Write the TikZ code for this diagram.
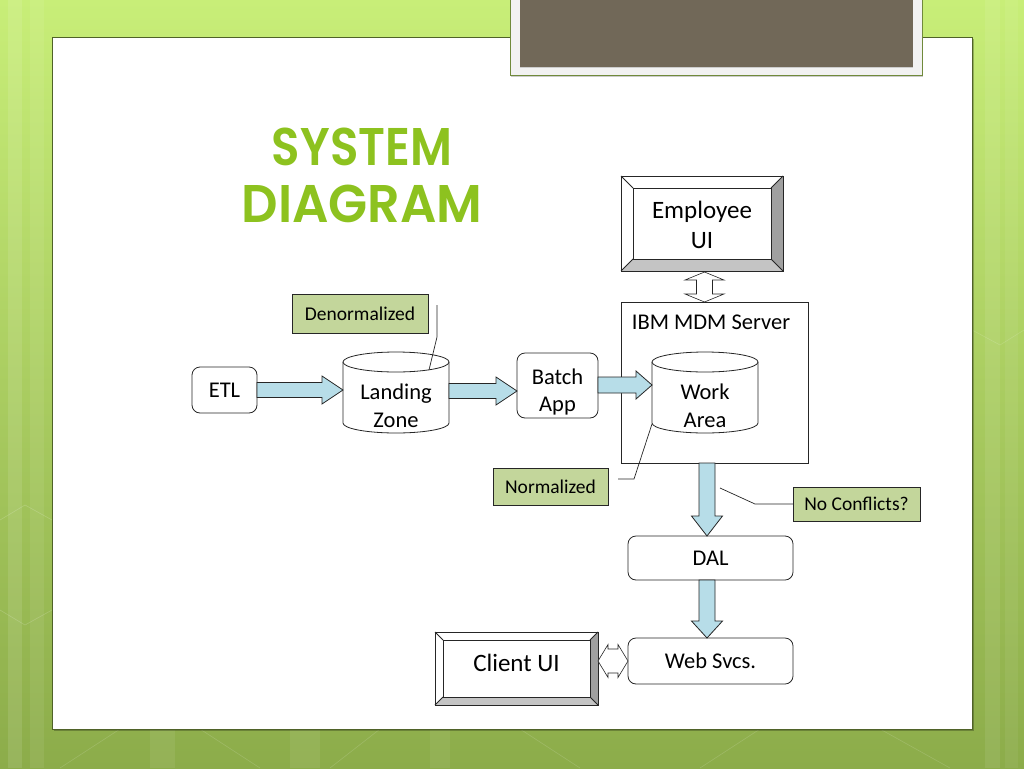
\documentclass[tikz,border=0pt]{standalone}
\usepackage{fontspec}
\setmainfont{Carlito}
\IfFontExistsTF{Poppins SemiBold}{\newfontfamily\titlefont{Poppins SemiBold}\def\titleweight{}}{\newfontfamily\titlefont{Poppins}\def\titleweight{\bfseries}}
\usetikzlibrary{calc}
\definecolor{linec}{HTML}{262626}
\definecolor{arrowblue}{HTML}{B7DDE8}
\definecolor{labelgreen}{HTML}{C3D69B}
\definecolor{titlegreen}{HTML}{8DC21F}
\definecolor{darkpanel}{HTML}{716858}
\definecolor{panelborder}{HTML}{4F6228}
\definecolor{bgtop}{HTML}{C8EE78}
\definecolor{bgmid}{HTML}{A8CC5E}
\definecolor{bgbot}{HTML}{8CAC4A}
\definecolor{bevelright}{HTML}{A0A0A0}
\definecolor{bevelbottom}{HTML}{C4C4C4}
\newcommand\bevelize[2]{%
  \fill[white] (#1.north west) -- (#1.north east) -- ($(#1.north east)+(-#2,#2)$) -- ($(#1.north west)+(#2,#2)$) -- cycle;
  \fill[white] (#1.north west) -- (#1.south west) -- ($(#1.south west)+(#2,-#2)$) -- ($(#1.north west)+(#2,#2)$) -- cycle;
  \fill[bevelright] (#1.north east) -- (#1.south east) -- ($(#1.south east)+(-#2,-#2)$) -- ($(#1.north east)+(-#2,#2)$) -- cycle;
  \fill[bevelbottom] (#1.south west) -- (#1.south east) -- ($(#1.south east)+(-#2,-#2)$) -- ($(#1.south west)+(#2,-#2)$) -- cycle;
  \draw[boxline] (#1.north west) rectangle (#1.south east);
  \draw[boxline] ($(#1.north west)+(#2,#2)$) rectangle ($(#1.south east)+(-#2,-#2)$);
  \draw[boxline] (#1.north west) -- ($(#1.north west)+(#2,#2)$);
  \draw[boxline] (#1.north east) -- ($(#1.north east)+(-#2,#2)$);
  \draw[boxline] (#1.south east) -- ($(#1.south east)+(-#2,-#2)$);
  \draw[boxline] (#1.south west) -- ($(#1.south west)+(#2,-#2)$);
}
\tikzset{
  boxline/.style={draw=linec, line width=0.8pt},
  rbox/.style={boxline, fill=white, rounded corners=8pt, inner sep=0pt, outer sep=0pt, align=center,
    font=\fontsize{22.5}{27.5}\selectfont},
  bevelnode/.style={inner sep=0pt, outer sep=0pt, align=center, font=\fontsize{25}{30}\selectfont},
  glabel/.style={boxline, fill=labelgreen, inner sep=0pt, outer sep=0pt, font=\fontsize{19.5}{23}\selectfont},
  plaintext/.style={inner sep=0pt, align=center, font=\fontsize{22.5}{27.5}\selectfont},
  callout/.style={draw=linec, line width=0.7pt},
  harrow/.style n args={3}{boxline, fill=arrowblue, line join=miter, to path={
    let \p1=(\tikztostart), \p2=(\tikztotarget) in
    (\x1,\y1+#1) -- (\x2-#3,\y1+#1) -- (\x2-#3,\y1+#2) -- (\x2,\y1) -- (\x2-#3,\y1-#2) -- (\x2-#3,\y1-#1) -- (\x1,\y1-#1) -- cycle}},
  varrow/.style n args={3}{boxline, fill=arrowblue, line join=miter, to path={
    let \p1=(\tikztostart), \p2=(\tikztotarget) in
    (\x1+#1,\y1) -- (\x1+#1,\y2+#3) -- (\x1+#2,\y2+#3) -- (\x1,\y2) -- (\x1-#2,\y2+#3) -- (\x1-#1,\y2+#3) -- (\x1-#1,\y1) -- cycle}},
  vdbl/.style n args={3}{boxline, fill=white, line width=0.6pt, line join=miter, to path={
    let \p1=(\tikztostart), \p2=(\tikztotarget) in
    (\x1,\y1) -- (\x1+#2,\y1-#3) -- (\x1+#1,\y1-#3) -- (\x1+#1,\y2+#3) -- (\x1+#2,\y2+#3) -- (\x1,\y2)
    -- (\x1-#2,\y2+#3) -- (\x1-#1,\y2+#3) -- (\x1-#1,\y1-#3) -- (\x1-#2,\y1-#3) -- cycle}},
  hdbl/.style n args={3}{boxline, fill=white, line width=0.6pt, line join=miter, to path={
    let \p1=(\tikztostart), \p2=(\tikztotarget) in
    (\x1,\y1) -- (\x1+#3,\y1+#2) -- (\x1+#3,\y1+#1) -- (\x2-#3,\y1+#1) -- (\x2-#3,\y1+#2) -- (\x2,\y1)
    -- (\x2-#3,\y1-#2) -- (\x2-#3,\y1-#1) -- (\x1+#3,\y1-#1) -- (\x1+#3,\y1-#2) -- cycle}},
}
\begin{document}
\begin{tikzpicture}[x=1pt,y=-1pt]
\useasboundingbox (0,0) rectangle (1024,768);
% background
\shade[top color=bgtop, middle color=bgmid, bottom color=bgbot] (0,0) rectangle (1024,768);
\fill[white, opacity=0.10] (8,0) rectangle (22,768);
\fill[white, opacity=0.07] (30,0) rectangle (44,768);
\fill[white, opacity=0.08] (985,0) rectangle (1000,768);
\fill[white, opacity=0.06] (1005,0) rectangle (1018,768);
\fill[white, opacity=0.07] (150,729) rectangle (175,768);
\fill[white, opacity=0.07] (290,729) rectangle (320,768);
\fill[white, opacity=0.06] (430,729) rectangle (450,768);
\draw[white, opacity=0.18, line width=0.6pt] (0,520) -- (25,505) -- (52,520);
\draw[white, opacity=0.18, line width=0.6pt] (0,610) -- (25,625) -- (52,610);
\draw[white, opacity=0.15, line width=0.6pt] (60,768) -- (120,729);
\draw[white, opacity=0.15, line width=0.6pt] (200,729) -- (260,768);
\draw[white, opacity=0.15, line width=0.6pt] (330,768) -- (380,729);
\draw[white, opacity=0.15, line width=0.6pt] (520,729) -- (580,768);
\draw[white, opacity=0.15, line width=0.6pt] (700,768) -- (760,729);
\draw[white, opacity=0.15, line width=0.6pt] (880,729) -- (950,768);
\draw[white, opacity=0.15, line width=0.6pt] (972,330) -- (1000,345) -- (1024,330);
% white panel
\fill[black, opacity=0.25] (54,39) rectangle (974,731);
\filldraw[fill=white, draw=panelborder, line width=0.8pt] (52,37) rectangle (972,729);
% top dark panel
\fill[black, opacity=0.2] (511,0) rectangle (923,77);
\filldraw[fill=white!95!black, draw=bgbot!80!black, line width=1pt] (510,-5) rectangle (922,75);
\fill[darkpanel] (520,-5) rectangle (913,67);
\draw[white!80!black, line width=0.6pt] (520,67) -- (913,67);
% title
\node[inner sep=0pt, align=center, text=titlegreen, font=\titlefont\titleweight\fontsize{53}{57}\selectfont] (title) at (362,175)
  {\scalebox{0.88}[1]{SYSTEM}\\\scalebox{0.96}[1]{DIAGRAM}};
% Employee UI
\node[bevelnode, minimum width=162pt, minimum height=95pt] (emp) at (702,223.5) {};
\bevelize{emp}{12}
\node[plaintext, font=\fontsize{25}{30}\selectfont] (emptext) at (702,225) {Employee\\UI};
% IBM MDM server box
\node[boxline, fill=white, inner sep=0pt, outer sep=0pt, minimum width=187pt, minimum height=161pt] (ibm) at (714.5,382.5) {};
\node[plaintext] (ibmlbl) at (711,322) {IBM MDM Server};
% Employee <-> IBM double arrow
\path[vdbl={8pt}{19.5pt}{8pt}] ($(emp.south)+(2.5,1)$) to ($(emp.south |- ibm.north)+(2.5,0)$);
% cylinders
\fill[white] (343,362) -- (343,423) arc[start angle=180, end angle=0, x radius=53, y radius=10] -- (449,362) -- cycle;
\draw[boxline] (343,362) -- (343,423) arc[start angle=180, end angle=0, x radius=53, y radius=10] -- (449,362);
\draw[boxline, fill=white] (396,362) ellipse[x radius=53, y radius=10];
\node[plaintext] (lz) at (396,406) {Landing\\Zone};
\coordinate (lzw) at (343,391);
\coordinate (lze) at (449,391);
\fill[white] (652,362) -- (652,423) arc[start angle=180, end angle=0, x radius=53, y radius=10] -- (758,362) -- cycle;
\draw[boxline] (652,362) -- (652,423) arc[start angle=180, end angle=0, x radius=53, y radius=10] -- (758,362);
\draw[boxline, fill=white] (705,362) ellipse[x radius=53, y radius=10];
\node[plaintext] (wa) at (705,406) {Work\\Area};
\coordinate (waw) at (652,385);
% rounded boxes
\node[rbox, minimum width=65pt, minimum height=46pt] (etl) at (224.5,390) {ETL};
\node[rbox, minimum width=81pt, minimum height=65pt] (batch) at (557.5,385.5) {};
\node[plaintext] (batchtext) at (557.5,392) {Batch\\App};
\node[rbox, minimum width=165pt, minimum height=44pt] (dal) at (710.5,558) {DAL};
\node[rbox, minimum width=165pt, minimum height=46pt] (web) at (710.5,661) {Web Svcs.};
% Client UI
\node[bevelnode, minimum width=163pt, minimum height=73pt] (client) at (516.5,668.5) {};
\bevelize{client}{8}
\node[plaintext, font=\fontsize{25}{30}\selectfont] (clienttext) at (516.5,663) {Client UI};
% block arrows
\path[harrow={7.5pt}{14pt}{21pt}] (etl.east) to (lzw);
\path[harrow={7.5pt}{14pt}{21pt}] (lze) to (batch.west);
\path[harrow={8pt}{14pt}{16pt}] (batch.east |- waw) to (waw);
\path[varrow={8pt}{15.5pt}{20pt}] ($(ibm.south -| dal.north)+(-3.5,0)$) to ($(dal.north)+(-3.5,0)$);
\path[varrow={8pt}{15.5pt}{17pt}] ($(dal.south)+(-3.5,0)$) to ($(web.north)+(-3.5,0)$);
\path[hdbl={12pt}{16.5pt}{10pt}] (client.east |- web.west) to (web.west);
% labels
\node[glabel, minimum width=136pt, minimum height=39pt] (denorm) at (360,313.5) {Denormalized};
\node[glabel, minimum width=115pt, minimum height=37pt] (norm) at (550.5,486.5) {Normalized};
\node[glabel, minimum width=127pt, minimum height=34pt] (noconf) at (856.5,504) {No Conflicts?};
% callouts
\coordinate (c1a) at (437,305);
\coordinate (c1b) at (437,337);
\coordinate (c1c) at (429,370);
\draw[callout] (c1a) -- (c1b) -- (c1c);
\coordinate (c2a) at (618,479);
\coordinate (c2b) at (634,479);
\coordinate (c2c) at (652,424);
\draw[callout] (c2a) -- (c2b) -- (c2c);
\coordinate (c3b) at (755,504);
\coordinate (c3c) at (720,488);
\draw[callout] (noconf.west) -- (c3b) -- (c3c);
\end{tikzpicture}
\end{document}
